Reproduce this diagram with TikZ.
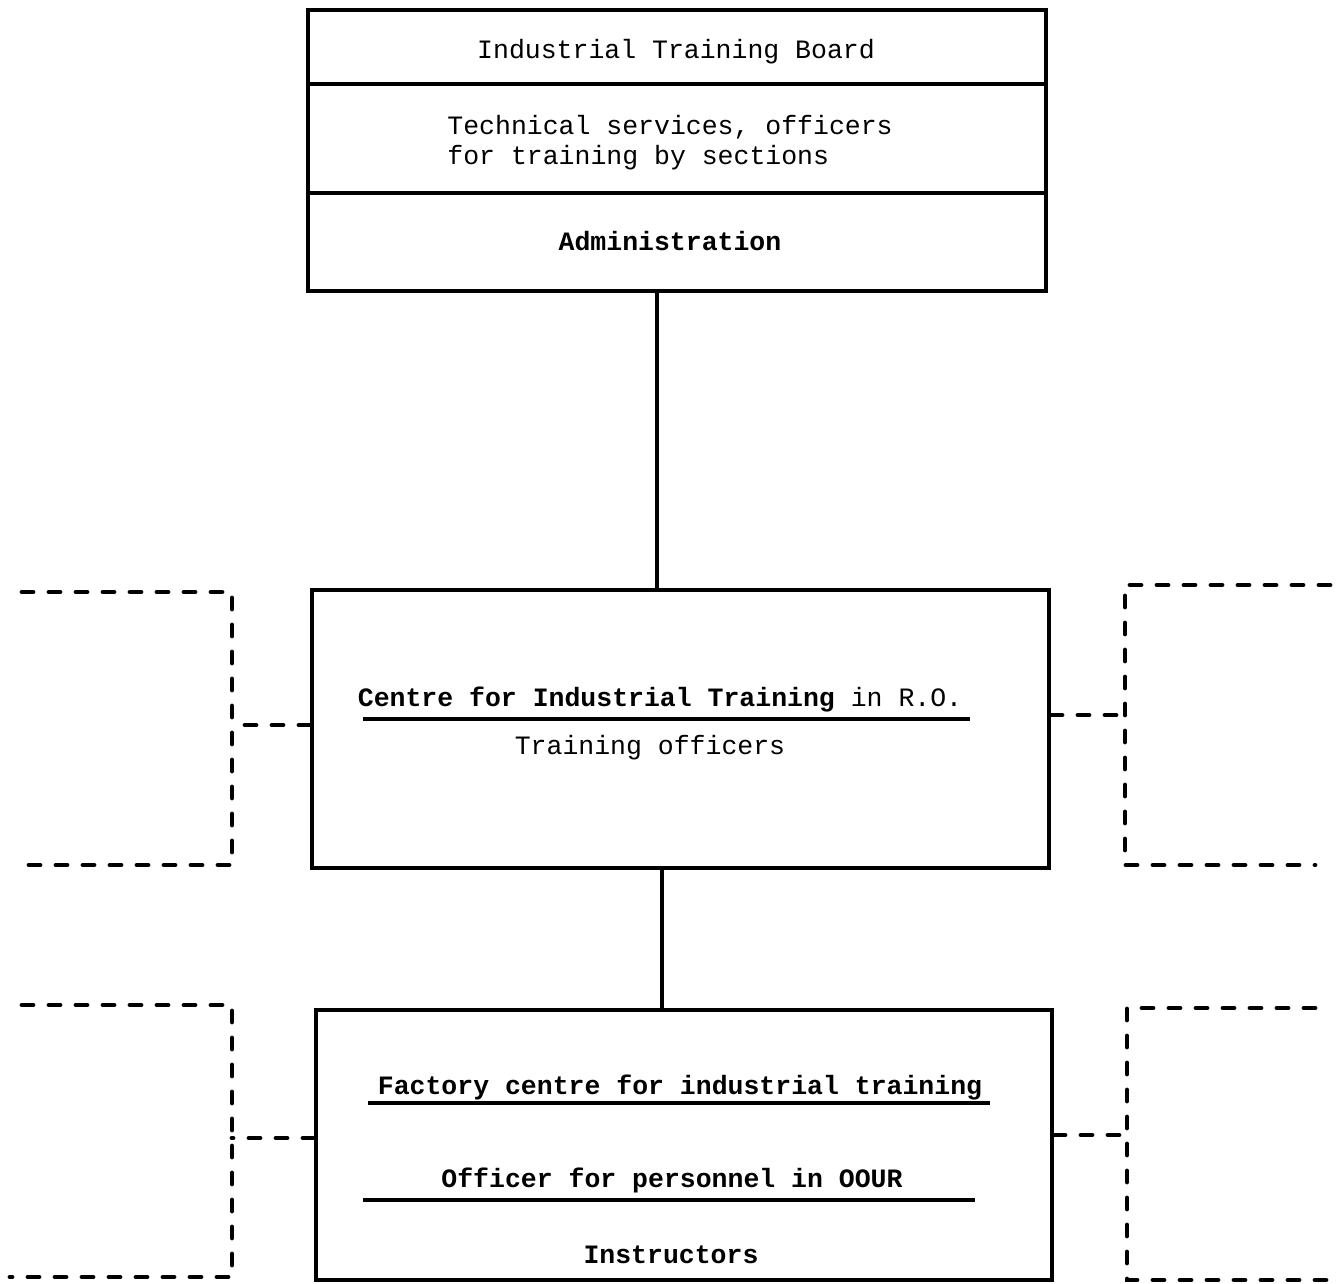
\documentclass[tikz,border=0pt]{standalone}
\usepackage{fontspec}
\newfontfamily\tw{Liberation Mono}
\begin{document}
\begin{tikzpicture}[x=0.5pt,y=-0.5pt,
  boxnode/.style={draw, line width=2pt, inner sep=0pt, rectangle},
  txt/.style={inner sep=0pt, font=\tw\fontsize{13.25}{15.5}\selectfont},
  btxt/.style={inner sep=0pt, font=\tw\bfseries\fontsize{13.25}{15.5}\selectfont},
  solidline/.style={line width=2pt},
  rule/.style={line width=1.6pt},
  dashline/.style={line width=2.4pt, line cap=round, dash pattern=on 5.5pt off 8pt}]
\useasboundingbox (0,0) rectangle (1338,1284);
% boxes
\node[boxnode, minimum width=369pt, minimum height=140.5pt] (top) at (677,150.5) {};
\node[boxnode, minimum width=368.5pt, minimum height=139pt] (mid) at (680.5,729) {};
\node[boxnode, minimum width=368pt, minimum height=135pt] (bot) at (684,1145) {};
% top box dividers
\coordinate (d1) at (0,84);
\coordinate (d2) at (0,193);
\draw[solidline] (top.west |- d1) -- (top.east |- d1);
\draw[solidline] (top.west |- d2) -- (top.east |- d2);
% top texts
\node[txt] (itb) at (676,52) {Industrial Training Board};
\node[txt, anchor=west] (tech1) at (447,127) {Technical services, officers};
\node[txt, anchor=west] (tech2) at (447,158) {for training by sections};
\node[btxt] (adm) at (670,241) {Administration};
% middle texts
\node[btxt] (cit) at (660,700) {Centre for Industrial Training\mdseries{} in R.O.};
\coordinate (u1a) at (363,719);
\coordinate (u1b) at (970,719);
\draw[rule] (u1a) -- (u1b);
\node[txt] (trof) at (650,748) {Training officers};
% bottom texts
\node[btxt] (fac) at (680,1088) {Factory centre for industrial training};
\coordinate (u2a) at (368,1103);
\coordinate (u2b) at (990,1103);
\draw[rule] (u2a) -- (u2b);
\node[btxt] (ofp) at (672,1180) {Officer for personnel in OOUR};
\coordinate (u3a) at (363,1200);
\coordinate (u3b) at (975,1200);
\draw[rule] (u3a) -- (u3b);
\node[btxt] (ins) at (671,1255) {Instructors};
% solid connectors
\draw[solidline] ([xshift=-10pt]top.south) coordinate (c1) -- (c1 |- mid.north);
\draw[solidline] ([xshift=-9.25pt]mid.south) coordinate (c2) -- (c2 |- bot.north);
% dashed brackets, middle row
\coordinate (lm1) at (22,592);
\coordinate (lm2) at (232,592);
\coordinate (lm3) at (232,865);
\coordinate (lm4) at (22,865);
\draw[dashline] (lm1) -- (lm2) -- (lm3) -- (lm4);
\draw[dashline] ([yshift=2pt]mid.west) coordinate (c0) -- (c0 -| lm2);
\coordinate (rm1) at (1330,585);
\coordinate (rm2) at (1125,585);
\coordinate (rm3) at (1125,865);
\coordinate (rm4) at (1315,865);
\draw[dashline] (rm1) -- (rm2) -- (rm3) -- (rm4);
\draw[dashline] ([yshift=7pt]mid.east) coordinate (c3) -- (c3 -| rm2);
% dashed brackets, bottom row
\coordinate (lb1) at (22,1005);
\coordinate (lb2) at (232,1005);
\coordinate (lb3) at (232,1277);
\coordinate (lb4) at (10,1277);
\draw[dashline] (lb1) -- (lb2) -- (lb3) -- (lb4);
\draw[dashline] ([yshift=3.5pt]bot.west) coordinate (c4) -- (c4 -| lb2);
\coordinate (rb1) at (1315,1008);
\coordinate (rb2) at (1127,1008);
\coordinate (rb3) at (1127,1280);
\coordinate (rb4) at (1336,1280);
\draw[dashline] (rb1) -- (rb2) -- (rb3) -- (rb4);
\draw[dashline] ([yshift=5pt]bot.east) coordinate (c5) -- (c5 -| rb2);
\end{tikzpicture}
\end{document}
